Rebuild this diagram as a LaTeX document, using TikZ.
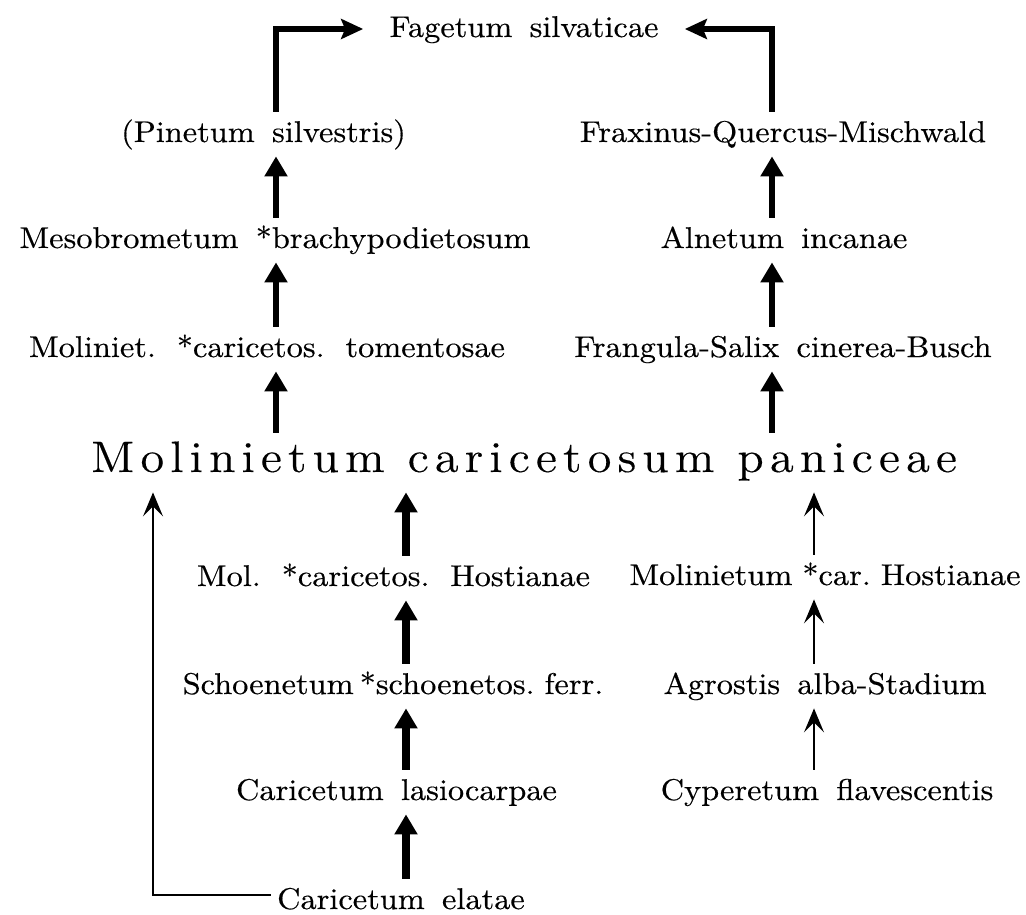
\documentclass[tikz,border=0pt]{standalone}
\usepackage{fontspec}
\setmainfont{lmroman10-regular.otf}[FakeStretch=1.08,WordSpace=1.6,FakeBold=0.4]
\newfontfamily\widefont{lmroman12-regular.otf}[FakeStretch=1.1,LetterSpace=14,WordSpace=1.05,FakeBold=0.3]
\usetikzlibrary{arrows.meta}
\tikzset{
  lbl/.style={anchor=base,inner sep=3pt,text height=12pt,text depth=4pt,font=\fontsize{15}{18}\selectfont},
  bigl/.style={lbl,text height=16.5pt,text depth=7pt,font=\widefont\fontsize{22}{26}\selectfont},
  ar/.style={-{Triangle[length=10pt,width=11pt]},line width=2.8pt},
  arw/.style={ar,line width=3.8pt},
  har/.style={-{Stealth[length=11pt,width=10pt,inset=2pt]},line width=2.6pt},
  tar/.style={-{Stealth[length=12pt,width=10pt,inset=5pt]},line width=1pt},
}

\begin{document}
\begin{tikzpicture}[x=0.5pt,y=-0.5pt]
\useasboundingbox (0,0) rectangle (1026,914);
\coordinate (cA) at (153,0);
\coordinate (cL) at (276,0);
\coordinate (cM) at (406,0);
\coordinate (cR) at (772,0);
\coordinate (cT) at (814,0);
\node[lbl,inner xsep=13pt] (fag) at (524,37) {Fagetum silvaticae};
\node[lbl] (pin) at (263.5,142) {(Pinetum silvestris)};
\node[lbl] (frx) at (783,142) {Fraxinus-Quercus-Mischwald};
\node[lbl] (mes) at (275,248) {Mesobrometum *brachypodietosum};
\node[lbl] (aln) at (784,248) {Alnetum incanae};
\node[lbl] (mlt) at (267,357) {Moliniet. *caricetos. tomentosae};
\node[lbl] (fra) at (783,357) {Frangula-Salix cinerea-Busch};
\node[bigl] (pan) at (524,472) {Molinietum caricetosum paniceae};
\node[lbl] (mh1) at (393.5,586) {Mol. *caricetos. Hostianae};
\node[lbl] (mh2) at (825,585) {Molinietum\hspace{5pt}*car.\hspace{5pt}Hostianae};
\node[lbl] (sch) at (393,694) {Schoenetum\hspace{3pt}*schoenetos.\hspace{5pt}ferr.};
\node[lbl] (agr) at (825,694) {Agrostis alba-Stadium};
\node[lbl] (las) at (396.5,800) {Caricetum lasiocarpae};
\node[lbl] (cyp) at (827,800) {Cyperetum flavescentis};
\node[lbl] (ela) at (401,909) {Caricetum elatae};
\draw[har] (pin.north -| cL) |- (fag.west);
\draw[har] (frx.north -| cR) |- (fag.east);
\draw[ar] (mes.north -| cL) -- (pin.south -| cL);
\draw[ar] (mlt.north -| cL) -- (mes.south -| cL);
\draw[ar] (pan.north -| cL) -- (mlt.south -| cL);
\draw[ar] (aln.north -| cR) -- (frx.south -| cR);
\draw[ar] (fra.north -| cR) -- (aln.south -| cR);
\draw[ar] (pan.north -| cR) -- (fra.south -| cR);
\draw[arw] (mh1.north -| cM) -- (pan.south -| cM);
\draw[arw] (sch.north -| cM) -- (mh1.south -| cM);
\draw[arw] (las.north -| cM) -- (sch.south -| cM);
\draw[arw] (ela.north -| cM) -- (las.south -| cM);
\draw[tar] (mh2.north -| cT) -- (pan.south -| cT);
\draw[tar] (agr.north -| cT) -- (mh2.south -| cT);
\draw[tar] (cyp.north -| cT) -- (agr.south -| cT);
\draw[tar] ([yshift=3pt]ela.west) -| (pan.south -| cA);
\end{tikzpicture}
\end{document}
